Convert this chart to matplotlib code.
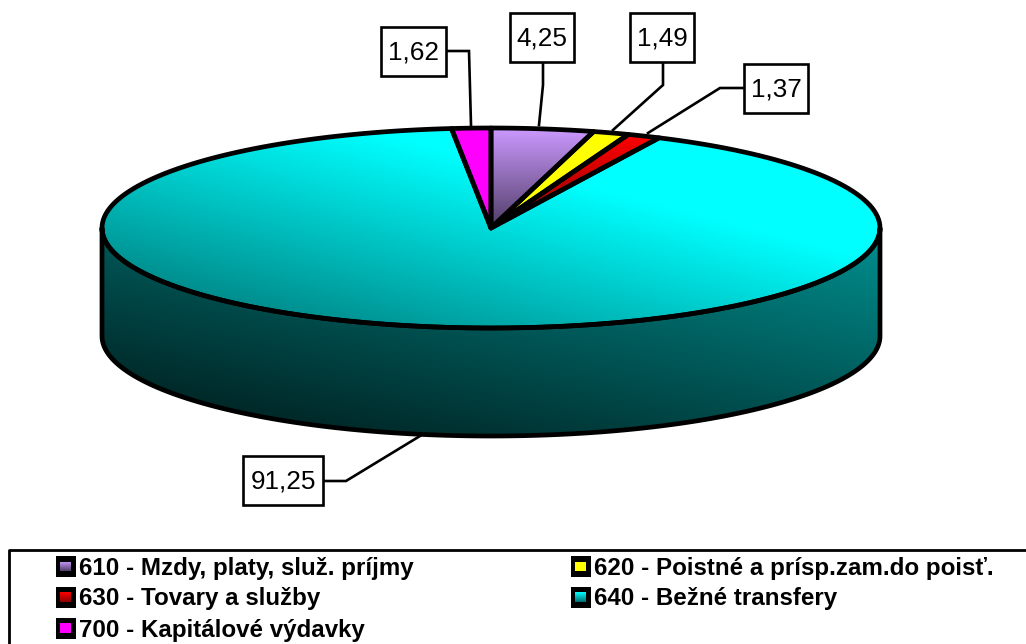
# -*- coding: utf-8 -*-
import numpy as np
import matplotlib
matplotlib.use("Agg")
import matplotlib.pyplot as plt
from matplotlib.colors import LinearSegmentedColormap
from matplotlib.patches import Polygon, Rectangle

plt.rcParams['font.family'] = ['Liberation Sans', 'DejaVu Sans']

# data, clockwise from twelve o'clock
categories = ["610 - Mzdy, platy, služ. príjmy",
              "620 - Poistné a prísp.zam.do poisť.",
              "630 - Tovary a služby",
              "640 - Bežné transfery",
              "700 - Kapitálové výdavky"]
values = [4.25, 1.49, 1.37, 91.25, 1.62]

# slice colours: (top of gradient, bottom of gradient)
slice_colors = [("#cc99ff", "#4f3d66"), ("#ffff00", "#ffff00"), ("#ff0000", "#8a0000"),
                ("#00ffff", "#006d6d"), ("#ff00ff", "#ff00ff")]

# label boxes (x0, y0, x1, y1) and their leader lines, in pixels
boxes = [(510, 13, 574, 62), (630, 13, 694, 62), (744, 64, 808, 113),
         (243, 456, 323, 505), (381, 27, 446, 76)]
leaders = [[(543, 62), (543, 85), (539, 125)],
           [(663, 62), (663, 85), (613, 130)],
           [(744, 88), (720, 88), (648, 133)],
           [(323, 481), (346, 481), (420, 436)],
           [(446, 51), (469, 51), (471, 125)]]

cx, cy, rx, ry, depth = 491, 228, 389, 100, 108

fig = plt.figure(figsize=(10.26, 6.44), dpi=100)
ax = fig.add_axes([0, 0, 1, 1])
ax.set_axis_off()


def rim(a0, a1, dy=0, n=200):
    # angle is measured clockwise from the top of the ellipse
    a = np.linspace(a0, a1, n)
    return np.column_stack([cx + rx * np.sin(a), cy - ry * np.cos(a) + dy])


def gradient(patch, extent, c0, c1, tilt=0.0, sat=1.0):
    # c1 at the bottom left corner up to c0, which is reached at the fraction sat
    cmap = LinearSegmentedColormap.from_list("g", [c1, c0])
    x, y = np.meshgrid(np.linspace(0, 1, 300), np.linspace(0, 1, 300))
    t = np.clip(((1 - y) + tilt * x) / ((1 + tilt) * sat), 0, 1)
    ax.add_patch(patch)
    im = ax.imshow(t, extent=extent, cmap=cmap, vmin=0, vmax=1, aspect="auto",
                   origin="upper", zorder=2, interpolation="bilinear")
    im.set_clip_path(patch)


edge = dict(edgecolor="black", linewidth=3.4, joinstyle="round", zorder=4)

# side wall, only the front half can be seen
wall = np.vstack([rim(np.pi / 2, 3 * np.pi / 2), rim(3 * np.pi / 2, np.pi / 2, depth)])
gradient(Polygon(wall, facecolor="none", edgecolor="none"),
         (cx - rx, cx + rx, cy + ry + depth, cy), "#009090", "#001717", 0.81)
ax.add_patch(Polygon(wall, facecolor="none", **edge))

# top of the pie, one wedge per value
fractions = np.array(values) / sum(values)
ends = np.cumsum(fractions) * 2 * np.pi
starts = ends - fractions * 2 * np.pi
for a0, a1, (c0, c1) in zip(starts, ends, slice_colors):
    pts = np.vstack([[(cx, cy)], rim(a0, a1)])
    y0, y1 = pts[:, 1].min(), pts[:, 1].max()
    if a1 - a0 > np.pi:
        gradient(Polygon(pts, facecolor="none", edgecolor="none"),
                 (cx - rx, cx + rx, cy + ry, cy - ry), c0, c1, 1.0, 0.667)
    else:
        gradient(Polygon(pts, facecolor="none", edgecolor="none"),
                 (pts[:, 0].min(), pts[:, 0].max(), y1, y0), c0, c1)
    ax.add_patch(Polygon(pts, facecolor="none", **edge))

# value labels
for value, box, leader in zip(values, boxes, leaders):
    xs, ys = zip(*leader)
    ax.plot(xs, ys, color="black", lw=1.9, zorder=5, solid_joinstyle="miter")
    x0, y0, x1, y1 = box
    ax.add_patch(Rectangle((x0, y0), x1 - x0, y1 - y0, facecolor="white",
                           edgecolor="black", lw=1.9, zorder=6))
    ax.text((x0 + x1) / 2, (y0 + y1) / 2 + 1, f"{value:.2f}".replace(".", ","),
            fontsize=18.8, ha="center", va="center", color="black", zorder=7)

# legend, its frame runs off the picture
ax.plot([9, 9, 1026], [644, 550, 550], color="black", lw=2, zorder=3)
legend_x = [56, 56, 56, 571, 571]
legend_y = [566.5, 597, 628, 566.5, 597]
legend_order = [0, 2, 4, 1, 3]
for lx, ly, i in zip(legend_x, legend_y, legend_order):
    ax.add_patch(Rectangle((lx, ly - 10.5), 19.5, 21, facecolor="black", edgecolor="none", zorder=3))
    c0, c1 = slice_colors[i]
    gradient(Rectangle((lx + 4, ly - 5), 11, 10, facecolor="none", edgecolor="none"),
             (lx + 4, lx + 15, ly + 5, ly - 5), c0, c1)
    ax.images[-1].set_zorder(4)
    ax.text(lx + 23, ly + 2, categories[i], fontsize=17.4, fontweight="bold",
            ha="left", va="center", color="black", zorder=5)

ax.set_xlim(0, 1026)
ax.set_ylim(644, 0)
fig.savefig("out.png", dpi=100, facecolor="white")
